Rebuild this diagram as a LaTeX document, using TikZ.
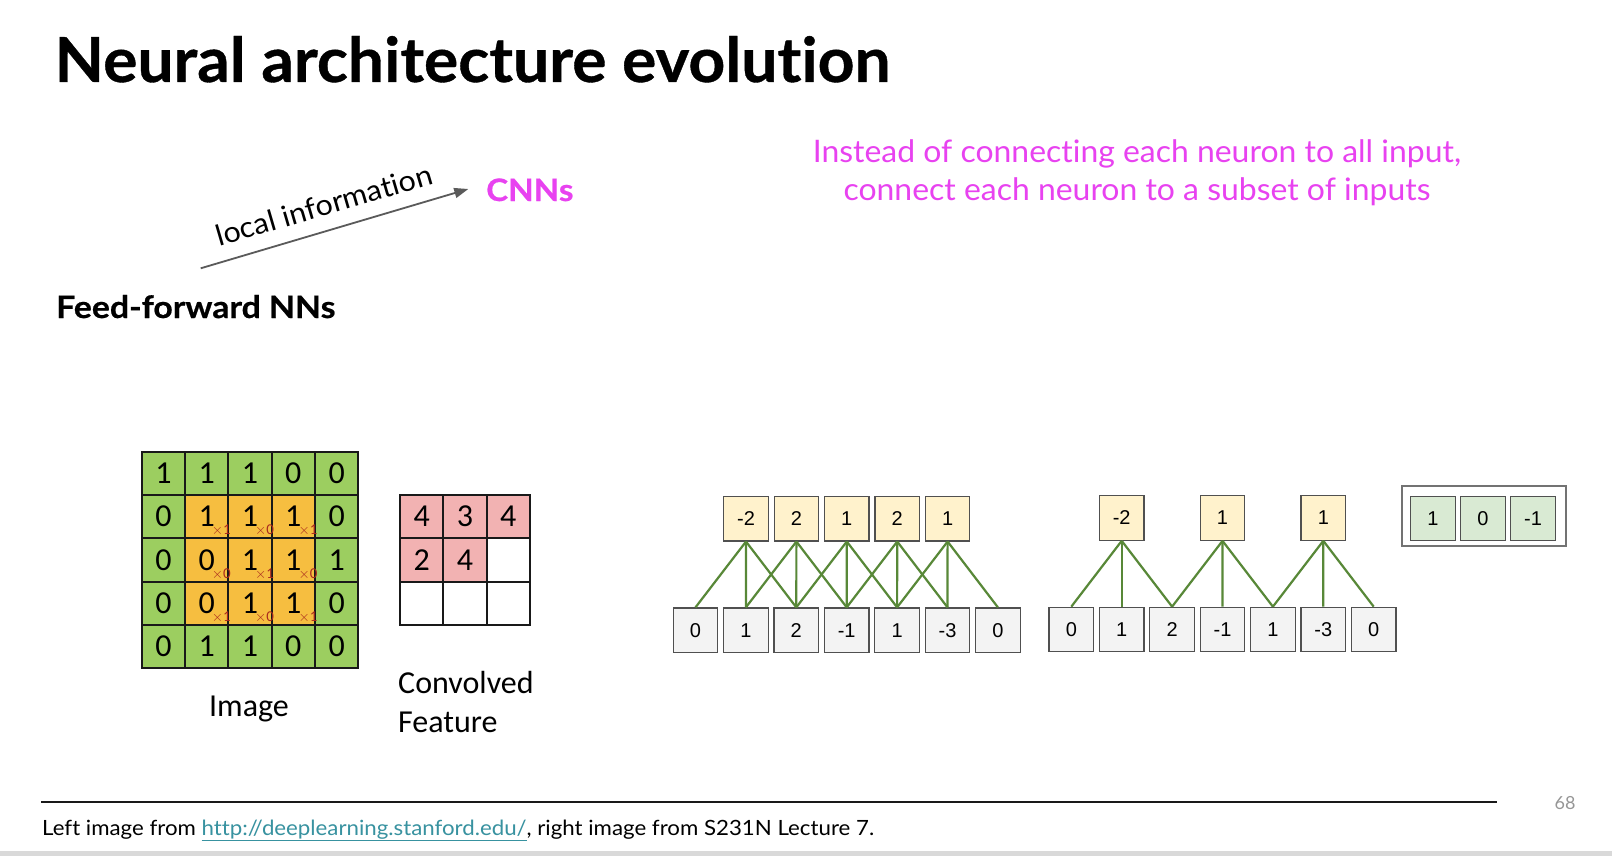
\documentclass[tikz,border=0pt]{standalone}
\usepackage{fontspec}
\setmainfont{Lato}[Ligatures={NoCommon}]
\newfontfamily\heavyfont{Lato}[Ligatures={NoCommon}, BoldFont={Lato Bold}, BoldFeatures={FakeBold=0.6}]
\newfontfamily\calibfont{Carlito}
\newfontfamily\arialfont{Liberation Sans}
\usetikzlibrary{arrows.meta}

\definecolor{accentmag}{RGB}{232,66,240}
\definecolor{arrowgrey}{RGB}{90,90,90}
\definecolor{gridgreen}{RGB}{156,206,96}
\definecolor{gridorange}{RGB}{246,190,64}
\definecolor{convpink}{RGB}{242,178,178}
\definecolor{kernred}{RGB}{170,42,30}
\definecolor{outyellow}{RGB}{255,242,204}
\definecolor{ingrey}{RGB}{243,243,243}
\definecolor{filtgreen}{RGB}{217,234,211}
\definecolor{edgegreen}{RGB}{88,136,56}
\definecolor{boxedge}{RGB}{80,80,80}
\definecolor{linkteal}{RGB}{56,146,160}
\definecolor{pagegrey}{RGB}{150,150,150}
\definecolor{bandgrey}{RGB}{217,217,217}

\newcommand{\fsz}[1]{\fontsize{#1}{#1}\selectfont}
\newcommand{\wide}[2]{\scalebox{#1}[1]{#2}}

\tikzset{
  cellnum/.style={inner sep=0, font=\calibfont\fsz{32}},
  kernsub/.style={anchor=base west, inner sep=0, text=kernred, font=\calibfont\fsz{15}},
  gridline/.style={line width=2, black!90, line cap=rect},
  unitbox/.style={draw=boxedge, line width=1.2, minimum width=44.5, minimum height=44.5,
                  inner sep=0, font=\arialfont\fsz{20}},
  inbox/.style={unitbox, fill=ingrey},
  outbox/.style={unitbox, fill=outyellow},
  filtbox/.style={unitbox, fill=filtgreen},
  link/.style={draw=edgegreen, line width=2.2},
}

\begin{document}
\begin{tikzpicture}[x=1pt, y=-1pt]
\fill[white] (0,0) rectangle (1612,856);
\useasboundingbox (0,0) rectangle (1612,856);
\fill[bandgrey] (0,851) rectangle (1612,856);

% headings
\node[anchor=base west, inner sep=0, font=\heavyfont\bfseries\fsz{62}] (title) at (54.5,82) {\wide{1.035}{Neural architecture evolution}};
\node[anchor=base west, inner sep=0, font=\heavyfont\bfseries\fsz{31}] (ffnn) at (56,318) {\wide{1.09}{Feed-forward NNs}};
\node[anchor=base west, inner sep=0, text=accentmag, font=\heavyfont\bfseries\fsz{31}] (cnns) at (486,201) {\wide{1.07}{CNNs}};

% arrow labelled "local information"
\coordinate (arrtail) at (200.7,268.3);
\coordinate (arrhead) at (468.3,189);
\draw[arrowgrey, line width=1.8, -{Triangle[length=14,width=10]}] (arrtail) -- (arrhead);
\node[anchor=base, inner sep=0, rotate=16.3, font=\fsz{29}] (localinfo) at (327,215) {\wide{1.05}{local information}};

% explanatory note
\node[anchor=base, inner sep=0, text=accentmag, font=\fsz{31}] (note1) at (1137,162.5) {\wide{1.03}{Instead of connecting each neuron to all input,}};
\node[anchor=base, inner sep=0, text=accentmag, font=\fsz{31}] (note2) at (1137,200.5) {\wide{1.03}{connect each neuron to a subset of inputs}};

% ---- image grid with 3x3 kernel window ----
\def\cs{43.33}
\def\gx{141.7}
\def\gy{451.7}
\fill[gridgreen] (\gx,\gy) rectangle ++(5*\cs,5*\cs);
\fill[gridorange] (\gx+\cs,\gy+\cs) rectangle ++(3*\cs,3*\cs);
\foreach \i in {0,...,5}{
  \draw[gridline] (\gx+\i*\cs,\gy) -- ++(0,5*\cs);
  \draw[gridline] (\gx,\gy+\i*\cs) -- ++(5*\cs,0);
}
\foreach \row/\vals in {0/{1,1,1,0,0},1/{0,1,1,1,0},2/{0,0,1,1,1},3/{0,0,1,1,0},4/{0,1,1,0,0}}{
  \foreach \v [count=\c from 0] in \vals {
    \node[cellnum] (img-\row-\c) at (\gx+\c*\cs+0.5*\cs, \gy+\row*\cs+0.5*\cs) {\v};
  }
}
\foreach \row/\ks in {1/{1,0,1},2/{0,1,0},3/{1,0,1}}{
  \foreach \k [count=\c from 1] in \ks {
    \node[kernsub] (ker-\row-\c) at (\gx+\c*\cs+0.5*\cs+5, \gy+\row*\cs+\cs-3.5) {$\times$\k};
  }
}
\node[anchor=base, inner sep=0, font=\calibfont\fsz{32}] (imglbl) at (249,716) {Image};

% ---- convolved feature ----
\def\fx{400}
\def\fy{495}
\fill[convpink] (\fx,\fy) rectangle ++(3*\cs,\cs);
\fill[convpink] (\fx,\fy+\cs) rectangle ++(2*\cs,\cs);
\foreach \i in {0,...,3}{
  \draw[gridline] (\fx+\i*\cs,\fy) -- ++(0,3*\cs);
  \draw[gridline] (\fx,\fy+\i*\cs) -- ++(3*\cs,0);
}
\foreach \row/\c/\v in {0/0/4,0/1/3,0/2/4,1/0/2,1/1/4}{
  \node[cellnum] (conv-\row-\c) at (\fx+\c*\cs+0.5*\cs, \fy+\row*\cs+0.5*\cs) {\v};
}
\node[anchor=base west, inner sep=0, font=\calibfont\fsz{32}] (convlbl1) at (398,693) {Convolved};
\node[anchor=base west, inner sep=0, font=\calibfont\fsz{32}] (convlbl2) at (398,732) {Feature};

% ---- 1D convolution, stride 1 ----
\foreach \v [count=\k from 0] in {0,1,2,-1,1,-3,0}{
  \node[inbox] (sa-in-\k) at (695.5+\k*50.4, 630.2) {\v};
}
\foreach \v [count=\k from 0] in {-2,2,1,2,1}{
  \node[outbox] (sa-out-\k) at (746+\k*50.4, 518.7) {\v};
}
\foreach \k in {0,...,4}{
  \pgfmathtruncatemacro{\a}{\k}
  \pgfmathtruncatemacro{\b}{\k+1}
  \pgfmathtruncatemacro{\d}{\k+2}
  \draw[link] (sa-out-\k.south) -- (sa-in-\a.north);
  \draw[link] (sa-out-\k.south) -- (sa-in-\b.north);
  \draw[link] (sa-out-\k.south) -- (sa-in-\d.north);
}

% ---- 1D convolution, stride 2 ----
\foreach \v [count=\k from 0] in {0,1,2,-1,1,-3,0}{
  \node[inbox] (sb-in-\k) at (1071.3+\k*50.4, 629.5) {\v};
}
\foreach \v [count=\k from 0] in {-2,1,1}{
  \node[outbox] (sb-out-\k) at (1121.7+\k*100.8, 518) {\v};
}
\foreach \k in {0,...,2}{
  \pgfmathtruncatemacro{\a}{2*\k}
  \pgfmathtruncatemacro{\b}{2*\k+1}
  \pgfmathtruncatemacro{\d}{2*\k+2}
  \draw[link] (sb-out-\k.south) -- (sb-in-\a.north);
  \draw[link] (sb-out-\k.south) -- (sb-in-\b.north);
  \draw[link] (sb-out-\k.south) -- (sb-in-\d.north);
}

% ---- filter weights ----
\node[draw=boxedge!80, line width=1.2, minimum width=164, minimum height=60, inner sep=0] (filtframe) at (1484,516) {};
\foreach \v [count=\k from 0] in {1,0,-1}{
  \node[filtbox] (filt-\k) at (1433+\k*50, 518.4) {\v};
}

% ---- footer ----
\coordinate (rulel) at (41,802);
\coordinate (ruler) at (1497,802);
\draw[line width=2, black!90] (rulel) -- (ruler);
\node[inner sep=0, text=pagegrey, font=\fsz{18}] (pagenum) at (1565,803) {68};
\node[anchor=base west, inner sep=0, font=\fsz{21}] (source) at (42,835)
  {\wide{1.06}{Left image from \textcolor{linkteal}{\underline{http://deeplearning.stanford.edu/}}, right image from S231N Lecture 7.}};
\end{tikzpicture}
\end{document}
